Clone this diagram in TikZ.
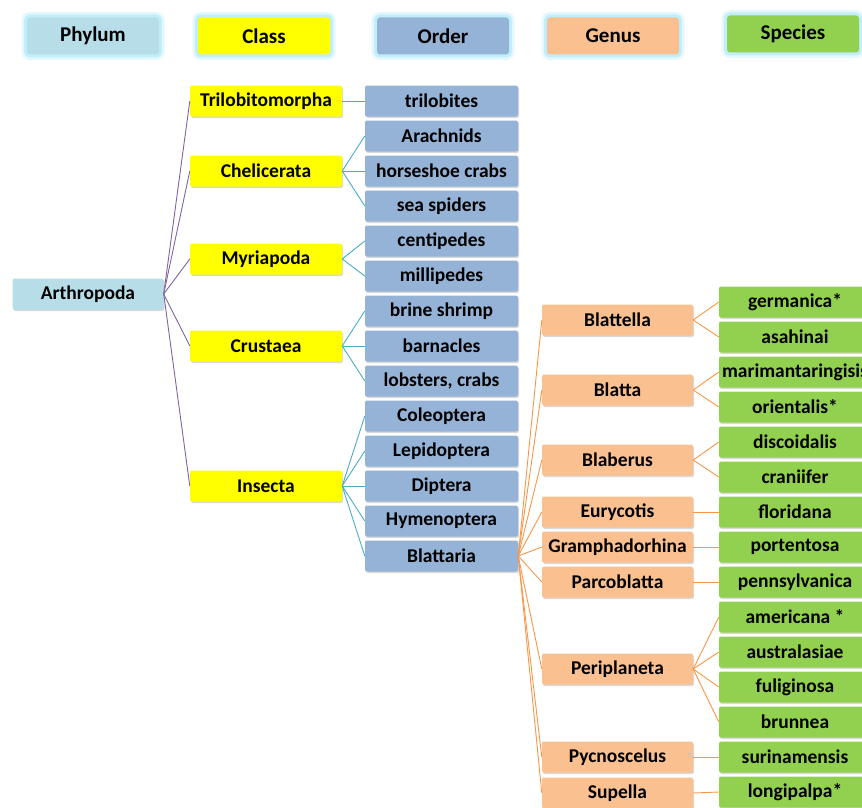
\documentclass[tikz,border=0pt]{standalone}
\usepackage{fontspec}
\setmainfont{Carlito}
\usetikzlibrary{shadows}

\definecolor{phylumblue}{HTML}{B7DDE8}
\definecolor{classyellow}{HTML}{FFFF00}
\definecolor{orderblue}{HTML}{95B3D7}
\definecolor{genusorange}{HTML}{FAC090}
\definecolor{speciesgreen}{HTML}{92D050}
\definecolor{linkpurple}{HTML}{8064A2}
\definecolor{linkteal}{HTML}{4BACC6}
\definecolor{linkorange}{HTML}{F79646}
\definecolor{glowcyan}{HTML}{A8E8FA}

\begin{document}
\begin{tikzpicture}[x=1pt,y=-1pt,
  box/.style={rounded corners=2pt,inner sep=0pt,minimum height=31pt,
    font=\bfseries\fontsize{19.5}{19.5}\selectfont,
    drop shadow={opacity=0.3,shadow xshift=1pt,shadow yshift=-1.5pt}},
  headbox/.style={rounded corners=3pt,inner sep=0pt,minimum height=37pt,minimum width=132pt,
    font=\bfseries\fontsize{21}{21}\selectfont,
    preaction={draw=glowcyan,line width=11pt,opacity=0.3},
    preaction={draw=glowcyan,line width=6pt,opacity=0.6}},
  phylumbox/.style={box,fill=phylumblue,minimum width=151pt},
  classbox/.style={box,fill=classyellow,minimum width=152pt},
  orderbox/.style={box,fill=orderblue,minimum width=153pt},
  genusbox/.style={box,fill=genusorange,minimum width=151pt},
  speciesbox/.style={box,fill=speciesgreen,minimum width=152pt},
  link/.style={line width=0.9pt}]
\useasboundingbox (0,0) rectangle (862,808);
\clip (0,0) rectangle (862,808);

% header row
\node[headbox,fill=phylumblue] (hphylum) at (93,36) {Phylum};
\node[headbox,fill=classyellow] (hclass) at (264,36) {Class};
\node[headbox,fill=orderblue] (horder) at (443,36) {Order};
\node[headbox,fill=genusorange] (hgenus) at (613,36) {Genus};
\node[headbox,fill=speciesgreen] (hspecies) at (793,34) {Species};

% tree
\node[phylumbox] (arthropoda) at (88,294) {Arthropoda};

\foreach \name/\txt/\y in {c1/Trilobitomorpha/101,c2/Chelicerata/171,
    c3/Myriapoda/259,c4/Crustaea/346,c5/Insecta/486}
  \node[classbox] (\name) at (266,\y) {\txt};

\foreach \name/\txt/\y in {o1/trilobites/101,o2/Arachnids/136,
    o3/horseshoe crabs/171,o4/sea spiders/206,o5/centipedes/241,
    o6/millipedes/276,o7/brine shrimp/311,o8/barnacles/346,
    o9/{lobsters, crabs}/381,o10/Coleoptera/416,o11/Lepidoptera/451,
    o12/Diptera/486,o13/Hymenoptera/521,o14/Blattaria/556}
  \node[orderbox] (\name) at (441.5,\y) {\txt};

\foreach \name/\txt/\y in {g1/Blattella/320,g2/Blatta/390,g3/Blaberus/460,
    g4/Eurycotis/512,g5/Gramphadorhina/547,g6/Parcoblatta/582,
    g7/Periplaneta/669,g8/Pycnoscelus/757,g9/Supella/793}
  \node[genusbox] (\name) at (617.5,\y) {\txt};

\foreach \name/\txt/\y in {s1/germanica*/302,s2/asahinai/337,
    s3/marimantaringisis/372,s4/orientalis*/407,s5/discoidalis/442,
    s6/craniifer/477,s7/floridana/512,s8/portentosa/547,
    s9/pennsylvanica/582,s10/americana */617,s11/australasiae/652,
    s12/fuliginosa/687,s13/brunnea/722,s14/surinamensis/757,
    s15/longipalpa*/792}
  \node[speciesbox] (\name) at (795,\y) {\txt};

% connectors
\foreach \c in {c1,c2,c3,c4,c5}
  \draw[link,linkpurple] (arthropoda.east) -- (\c.west);

\foreach \p/\kids in {c1/{o1},c2/{o2,o3,o4},c3/{o5,o6},c4/{o7,o8,o9},
    c5/{o10,o11,o12,o13,o14}}
  \foreach \k in \kids
    \draw[link,linkteal] (\p.east) -- (\k.west);

\foreach \g in {g1,g2,g3,g4,g5,g6,g7,g8,g9}
  \draw[link,linkorange] (o14.east) -- (\g.west);

\foreach \p/\kids in {g1/{s1,s2},g2/{s3,s4},g3/{s5,s6},g4/{s7},g5/{s8},
    g6/{s9},g7/{s10,s11,s12,s13},g8/{s14},g9/{s15}}
  \foreach \k in \kids
    \draw[link,linkorange] (\p.east) -- (\k.west);
\end{tikzpicture}
\end{document}
